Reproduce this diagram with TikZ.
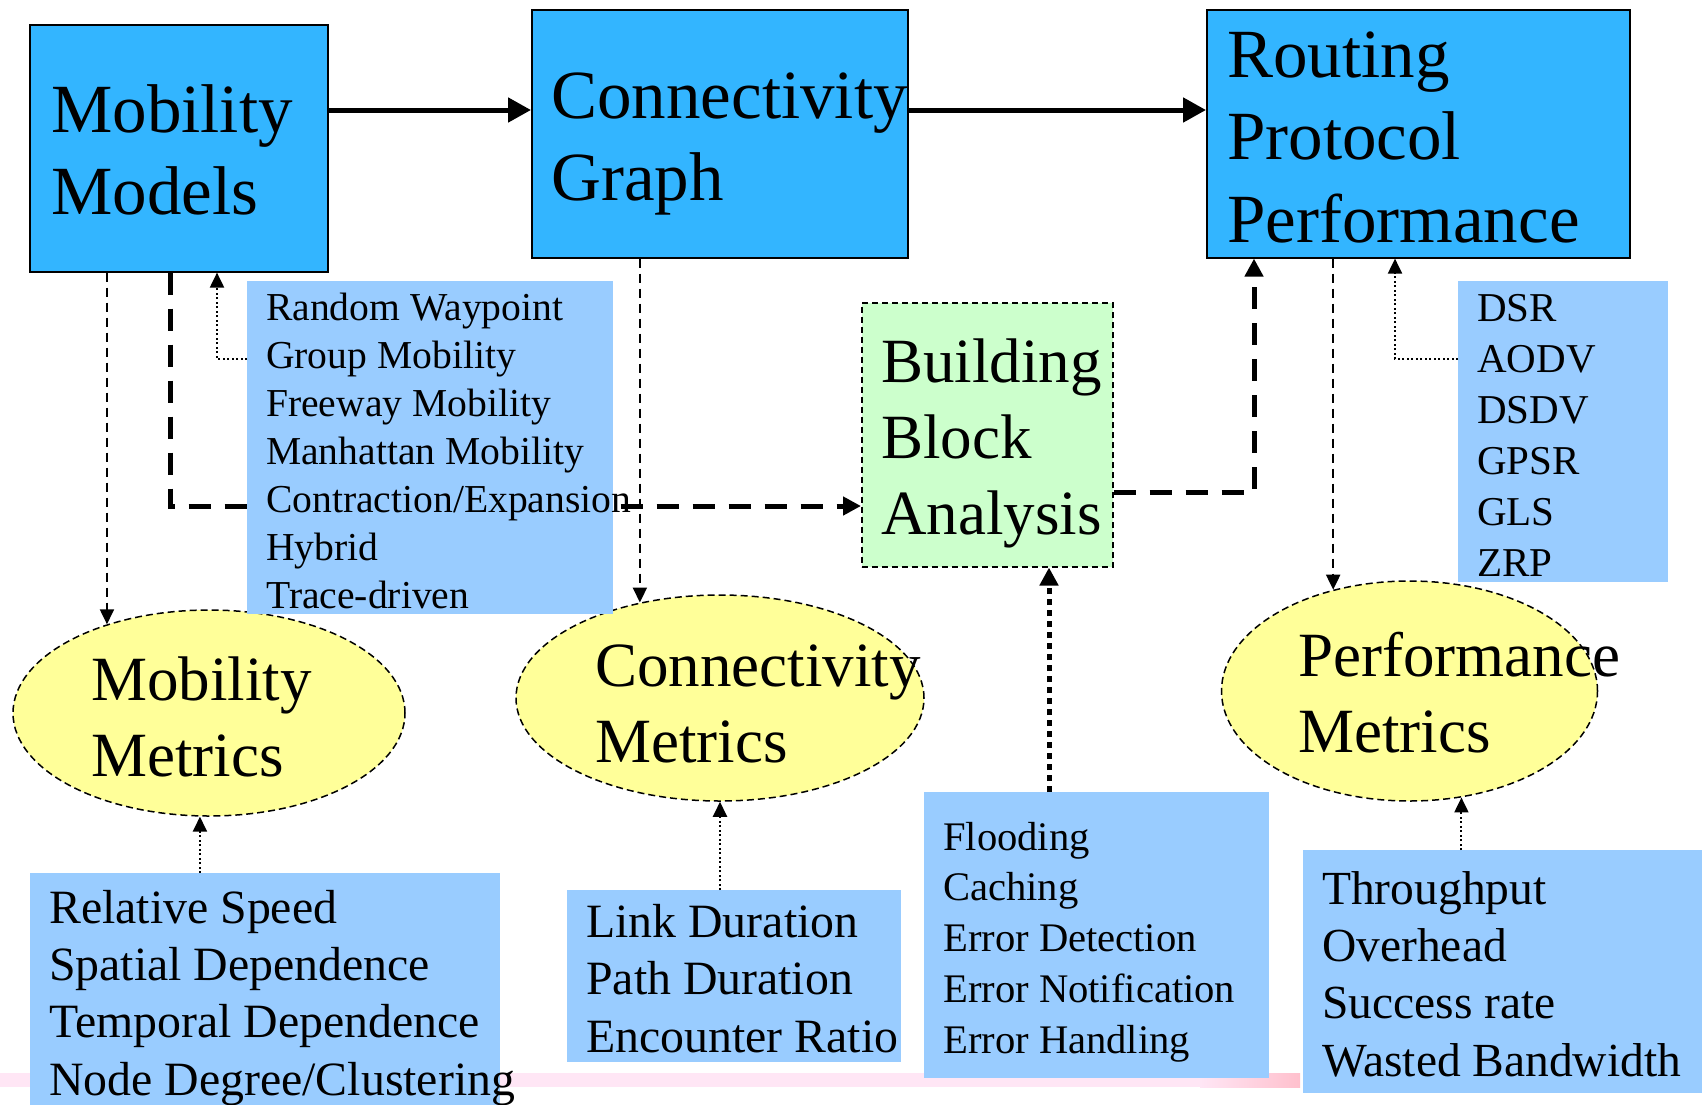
\documentclass[tikz,border=0pt]{standalone}
\usepackage{fontspec}
\setmainfont{Liberation Serif}
\usetikzlibrary{arrows.meta,shapes.geometric}
\definecolor{topblue}{RGB}{51,181,255}
\definecolor{listblue}{RGB}{153,204,255}
\definecolor{blockgreen}{RGB}{204,255,204}
\definecolor{metricyellow}{RGB}{255,255,153}
\definecolor{barpink}{RGB}{255,230,245}
\definecolor{barrose}{RGB}{255,192,205}
\begin{document}
\begin{tikzpicture}[x=1pt,y=-1pt,
  topbox/.style={draw=black, line width=1.6pt, fill=topblue, anchor=north west, inner sep=0pt},
  listbox/.style={fill=listblue, anchor=north west, inner sep=0pt},
  blockbox/.style={draw=black, line width=1.5pt, dash pattern=on 6pt off 4pt, fill=blockgreen, anchor=north west, inner sep=0pt},
  metric/.style={ellipse, draw=black, line width=1.5pt, dash pattern=on 7pt off 4pt, fill=metricyellow, inner sep=0pt},
  % multi-line texts are placed by the baseline of their last line
  txt/.style={anchor=base west, align=left, inner sep=0pt},
  bigtext/.style={txt, font=\fontsize{69}{82.5}\selectfont},
  midtext/.style={txt, font=\fontsize{63}{76}\selectfont},
  flow/.style={line width=5pt, -{Triangle[length=23pt,width=24pt]}},
  feed/.style={line width=5pt, dash pattern=on 22pt off 14pt, -{Triangle[length=18pt,width=18pt]}},
  derive/.style={line width=2pt, dash pattern=on 9pt off 6pt, -{Triangle[length=15pt,width=14pt]}},
  source/.style={line width=2pt, dash pattern=on 2pt off 2.5pt, -{Triangle[length=15pt,width=14pt]}},
  heavysource/.style={line width=5pt, dash pattern=on 6pt off 5pt, -{Triangle[length=18pt,width=18pt]}}
]
\useasboundingbox (0,0) rectangle (1702,1104);
\fill[white] (0,0) rectangle (1702,1104);

% footer band
\fill[barpink] (0,1073) rectangle (1200,1087);
\shade[left color=barpink, right color=barrose] (1200,1073) rectangle (1300,1087);

% main blocks
\node[topbox, minimum width=298, minimum height=247] (mm) at (29,24) {};
\node[topbox, minimum width=376, minimum height=248] (cg) at (531,9) {};
\node[topbox, minimum width=423, minimum height=248] (rpp) at (1206,9) {};
\node[bigtext] (mmtext) at (51,214.5) {Mobility\\Models};
\node[bigtext] (cgtext) at (551,200.5) {Connectivity\\Graph};
\node[bigtext] (rpptext) at (1227,242) {Routing\\Protocol\\Performance};

% building block analysis
\node[blockbox, minimum width=251, minimum height=264] (bba) at (861,302) {};
\node[midtext] (bbatext) at (881,534) {Building\\Block\\Analysis};

% metric ellipses
\node[metric, minimum width=392, minimum height=206] (mmet) at (209,713) {};
\node[metric, minimum width=408, minimum height=206] (cmet) at (720,698) {};
\node[metric, minimum width=376, minimum height=220] (pmet) at (1409.5,691) {};
\node[midtext] (mmettext) at (91,776) {Mobility\\Metrics};
\node[midtext] (cmettext) at (595,762) {Connectivity\\Metrics};
\node[midtext] (pmettext) at (1298,752) {Performance\\Metrics};

% mobility models feed the building block analysis (passes under the model list)
\coordinate (k1) at (170,506);
\draw[feed] (k1 |- mm.south) -- (k1) -- (k1 -| bba.west);

% list of mobility models
\node[listbox, minimum width=366, minimum height=333] (mlist) at (247,281) {};
\node[txt, font=\fontsize{39.6}{48}\selectfont] (mlisttext) at (266,608)
  {Random Waypoint\\Group Mobility\\Freeway Mobility\\Manhattan Mobility\\Contraction/Expansion\\Hybrid\\Trace-driven};

% list of protocols
\node[listbox, minimum width=210, minimum height=301] (dlist) at (1458,281) {};
\node[txt, font=\fontsize{41}{51}\selectfont] (dlisttext) at (1477,576)
  {DSR\\AODV\\DSDV\\GPSR\\GLS\\ZRP};

% metric lists
\node[listbox, minimum width=470, minimum height=240] (mmlist) at (30,873) {};
\node[txt, font=\fontsize{47.8}{57.3}\selectfont] (mmlisttext) at (49,1095)
  {Relative Speed\\Spatial Dependence\\Temporal Dependence\\Node Degree/Clustering};
\node[listbox, minimum width=334, minimum height=172] (clist) at (567,890) {};
\node[txt, font=\fontsize{47.8}{57.5}\selectfont] (clisttext) at (586,1052)
  {Link Duration\\Path Duration\\Encounter Ratio};
\node[listbox, minimum width=345, minimum height=286] (blist) at (924,792) {};
\node[txt, font=\fontsize{40.6}{50.75}\selectfont] (blisttext) at (943,1053)
  {Flooding\\Caching\\Error Detection\\Error Notification\\Error Handling};
\node[listbox, minimum width=410, minimum height=243] (plist) at (1303,850) {};
\node[txt, font=\fontsize{47.5}{57.3}\selectfont] (plisttext) at (1322,1076)
  {Throughput\\Overhead\\Success rate\\Wasted Bandwidth};

% main flow
\coordinate (k7) at (0,110);
\draw[flow] (k7 -| mm.east) -- (k7 -| cg.west);
\draw[flow] (k7 -| cg.east) -- (k7 -| rpp.west);

% building block analysis feeds protocol performance
\coordinate (k3) at (1254,492);
\draw[feed] (k3 -| bba.east) -- (k3) -- (k3 |- rpp.south);

% derived metrics
\draw[derive] (mmet.139.2 |- mm.south) -- (mmet.139.2);
\draw[derive] (cmet.130.2 |- cg.south) -- (cmet.130.2);
\draw[derive] (pmet.127.7 |- rpp.south) -- (pmet.127.7);

% instances of each block
\coordinate (k2) at (217,359);
\draw[source] (k2 -| mlist.west) -- (k2) -- (k2 |- mm.south);
\coordinate (k4) at (1395,359);
\draw[source] (k4 -| dlist.west) -- (k4) -- (k4 |- rpp.south);
\coordinate (k5) at (1049,0);
\draw[heavysource] (k5 |- blist.north) -- (k5 |- bba.south);
\draw[source] (mmet.265.6 |- mmlist.north) -- (mmet.265.6);
\draw[source] (cmet.south |- clist.north) -- (cmet.south);
\draw[source] (pmet.296 |- plist.north) -- (pmet.296);
\end{tikzpicture}
\end{document}
